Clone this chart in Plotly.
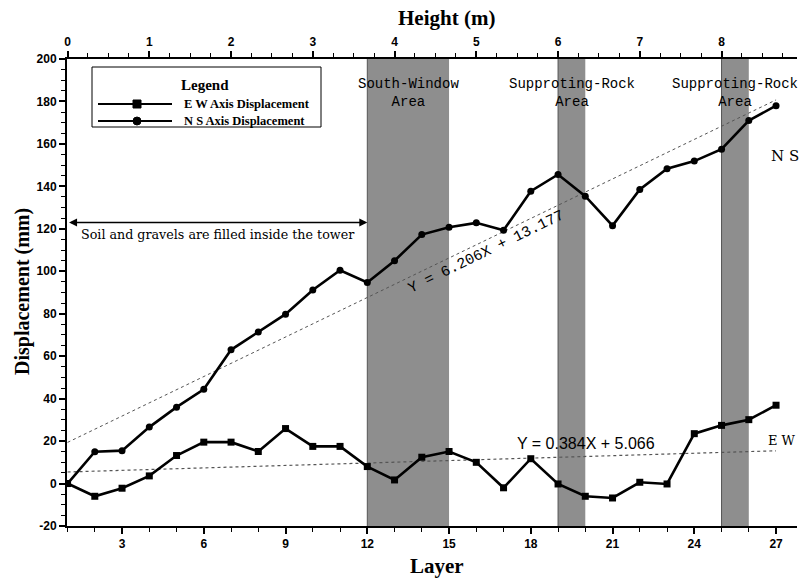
import plotly.graph_objects as go

# ---- data -------------------------------------------------------------
layers = list(range(1, 28))

ew_disp = [0, -6, -2.2, 3.6, 13.2, 19.5, 19.5, 15.1, 25.9, 17.5, 17.5, 8, 1.7,
           12.4, 15.1, 10, -2, 11.7, -0.2, -6, -6.8, 0.6, -0.2, 23.5, 27.4, 30.1, 36.9]
ns_disp = [0, 15, 15.5, 26.6, 36, 44.4, 63, 71.4, 79.8, 91.2, 100.5, 94.7, 105,
           117.3, 120.7, 122.8, 119.3, 137.7, 145.6, 135.4, 121.5, 138.5, 148.3,
           151.9, 157.5, 171, 178]

# linear fits (Y = a*X + b)
ns_fit = (6.206, 13.177)
ew_fit = (0.384, 5.066)

# shaded zones along the tower (layer ranges) and their names
zone_ranges = [(12, 15), (19, 20), (25, 26)]
zone_names = ["South-Window<br>Area", "Supproting-Rock<br>Area", "Supproting-Rock<br>Area"]

height_ticks = list(range(0, 9))
layer_ticks = list(range(3, 28, 3))
disp_ticks = list(range(-20, 201, 20))

# ---- geometry of the plotting area (pixels) ---------------------------
W, H = 799, 581
ML, MR, MT, MB = 67, 2, 59, 55
PW, PH = W - ML - MR, H - MT - MB
X_MIN, X_MAX = 0.98, 0.98 + PW / 27.25
Y_MIN, Y_MAX = -20, 200


def px(x):
    return (x - ML) / PW


def py(y):
    return (H - MB - y) / PH


SERIF = "Liberation Serif"
SANS = "Liberation Sans"
MONO = "Liberation Mono"
SLAB = "DejaVu Serif"

fig = go.Figure()

# trend lines from the fitted equations
fit_x = [layers[0], layers[-1]]
fig.add_trace(go.Scatter(x=fit_x, y=[ns_fit[0] * v + ns_fit[1] for v in fit_x],
                         mode="lines", line=dict(color="#555555", width=1, dash="dot"),
                         showlegend=False, hoverinfo="skip"))
fig.add_trace(go.Scatter(x=fit_x, y=[ew_fit[0] * v + ew_fit[1] for v in fit_x],
                         mode="lines", line=dict(color="#555555", width=1.2, dash="dot"),
                         showlegend=False, hoverinfo="skip"))

# displacement series
fig.add_trace(go.Scatter(x=layers, y=ew_disp, mode="lines+markers", name="E W Axis Displacement",
                         line=dict(color="black", width=2.6),
                         marker=dict(symbol="square", size=7, color="black"),
                         showlegend=False))
fig.add_trace(go.Scatter(x=layers, y=ns_disp, mode="lines+markers", name="N S Axis Displacement",
                         line=dict(color="black", width=2.6),
                         marker=dict(symbol="circle", size=7, color="black"),
                         showlegend=False))

# dummy trace to carry the top (height) axis
fig.add_trace(go.Scatter(x=[0, 8], y=[None, None], xaxis="x2", showlegend=False,
                         hoverinfo="skip", mode="markers"))

shapes = []
for a, b in zone_ranges:
    shapes.append(dict(type="rect", xref="x", yref="y", x0=a, x1=b, y0=Y_MIN, y1=Y_MAX,
                       fillcolor="#8e8e8e", line=dict(width=0), layer="below"))
    shapes.append(dict(type="line", xref="x", yref="y", x0=a, x1=a, y0=Y_MIN, y1=Y_MAX,
                       line=dict(color="#555555", width=1), layer="below"))

# hand-drawn legend box
shapes.append(dict(type="rect", xref="paper", yref="paper",
                   x0=px(92), x1=px(321), y0=py(127), y1=py(67),
                   fillcolor="white", line=dict(color="black", width=1)))
for yy, sym in [(104, "square"), (121, "circle")]:
    shapes.append(dict(type="line", xref="paper", yref="paper",
                       x0=px(98), x1=px(172), y0=py(yy), y1=py(yy),
                       line=dict(color="black", width=2)))
    shapes.append(dict(type="rect" if sym == "square" else "circle",
                       xref="paper", yref="paper",
                       x0=px(133), x1=px(141), y0=py(yy + 4), y1=py(yy - 4),
                       fillcolor="black", line=dict(color="black", width=1)))


def label(text, x, y, xref="paper", yref="paper", xanchor="center", **kw):
    return dict(text=text, x=x, y=y, xref=xref, yref=yref, showarrow=False,
                xanchor=xanchor, yanchor="middle", **kw)


annotations = [
    label("<b>Height (m)</b>", px(446), py(18),
          font=dict(family=SERIF, size=21, color="black")),
    label("<b>Layer</b>", px(437), py(566),
          font=dict(family=SERIF, size=21, color="black")),
    label("<b>Displacement (mm)</b>", px(22), py(292), textangle=-90,
          font=dict(family=SERIF, size=20, color="black")),
    # legend texts
    label("<b>Legend</b>", px(205), py(85),
          font=dict(family=SERIF, size=15, color="black")),
    label("<b>E W Axis Displacement</b>", px(182), py(104), xanchor="left",
          font=dict(family=SERIF, size=12.5, color="black")),
    label("<b>N S Axis Displacement</b>", px(182), py(121), xanchor="left",
          font=dict(family=SERIF, size=12.5, color="black")),
    # backfill span
    dict(text="", x=12, y=123, ax=1, ay=123, xref="x", yref="y", axref="x", ayref="y",
         showarrow=True, arrowside="end+start", arrowhead=2, arrowsize=1,
         arrowwidth=1.6, arrowcolor="black", standoff=0, startstandoff=0),
    label("Soil and gravels are filled inside the tower", px(218), py(235),
          font=dict(family=SLAB, size=12.7, color="black")),
    # series tags
    label("N S", 27.33, 154.5, xref="x", yref="y",
          font=dict(family=SLAB, size=15, color="black")),
    label("E W", 27.22, 20.3, xref="x", yref="y",
          font=dict(family=SLAB, size=13, color="black")),
    # fit equations
    label("Y = %.3fX + %.3f" % ns_fit, 16.36, 108.8, xref="x", yref="y", textangle=-26,
          font=dict(family=MONO, size=15, color="black")),
    label("Y = %.3fX + %.3f" % ew_fit, 20.03, 18.8, xref="x", yref="y",
          font=dict(family=SANS, size=16, color="black")),
]
for (a, b), name in zip(zone_ranges, zone_names):
    annotations.append(label(name, (a + b) / 2, py(93), xref="x",
                             font=dict(family=MONO, size=14, color="black")))

tick_font = dict(family=SANS, size=12, color="black")

fig.update_layout(
    width=W, height=H,
    margin=dict(l=ML, r=MR, t=MT, b=MB, pad=0),
    paper_bgcolor="white", plot_bgcolor="white",
    shapes=shapes, annotations=annotations, showlegend=False,
    xaxis=dict(range=[X_MIN, X_MAX], tickmode="array", tickvals=layer_ticks,
               ticktext=["<b>%d</b>" % v for v in layer_ticks],
               ticks="outside", ticklen=6, tickwidth=1.5, tickcolor="black",
               minor=dict(tickmode="linear", tick0=0, dtick=1, ticks="outside",
                          ticklen=4, tickcolor="black", tickwidth=1.2),
               showline=True, linecolor="black", linewidth=2, showgrid=False,
               zeroline=False, tickfont=tick_font, automargin=False),
    xaxis2=dict(range=[(X_MIN - 1) / 3, (X_MAX - 1) / 3], overlaying="x", side="top",
                tickmode="array", tickvals=height_ticks,
                ticktext=["<b>%d</b>" % v for v in height_ticks],
                ticks="outside", ticklen=6, tickwidth=1.5, tickcolor="black",
                minor=dict(tickmode="linear", tick0=0, dtick=0.25, ticks="outside",
                           ticklen=4, tickcolor="black", tickwidth=1.2),
                showline=True, linecolor="black", linewidth=2, showgrid=False,
                zeroline=False, tickfont=tick_font, automargin=False),
    yaxis=dict(range=[Y_MIN, Y_MAX], tickmode="array", tickvals=disp_ticks,
               ticktext=["<b>%d</b>" % v for v in disp_ticks],
               ticks="outside", ticklen=6, tickwidth=1.5, tickcolor="black",
               minor=dict(tickmode="linear", tick0=0, dtick=5, ticks="outside",
                          ticklen=4, tickcolor="black", tickwidth=1.2),
               showline=True, linecolor="black", linewidth=2, showgrid=False,
               zeroline=False, tickfont=tick_font, automargin=False),
)

fig.write_html("out.html")
